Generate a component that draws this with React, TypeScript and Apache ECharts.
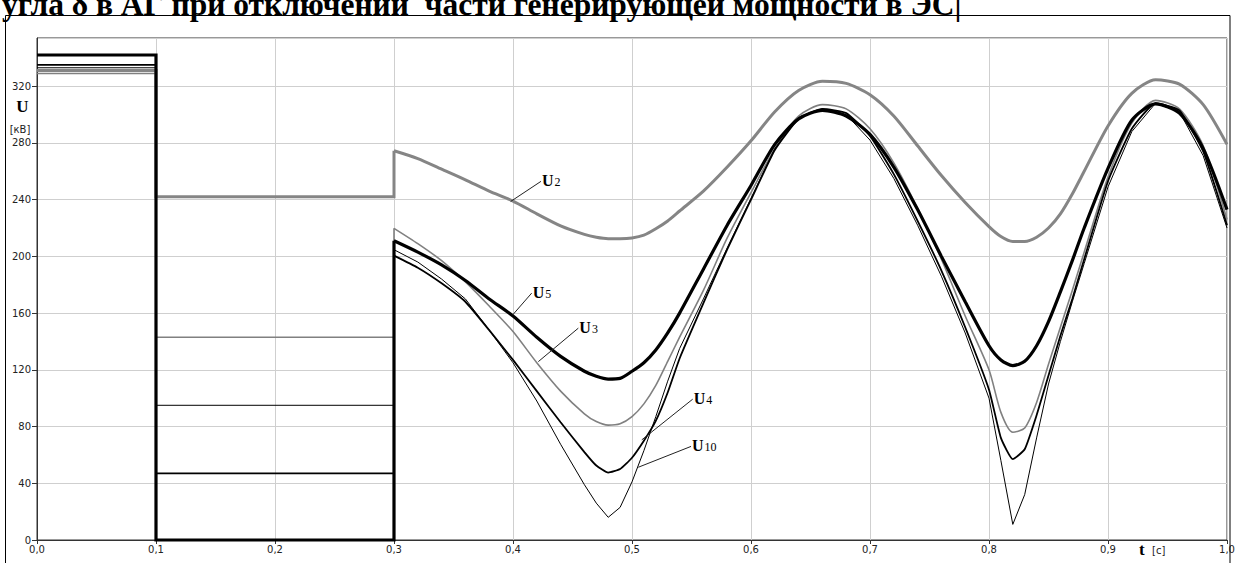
import React, { useEffect, useRef } from "react";
import * as echarts from "echarts";

// time grid (s) for the post-fault part of every curve
const tCurve = [0.30, 0.32, 0.34, 0.36, 0.38, 0.40, 0.42, 0.44, 0.46, 0.47, 0.48, 0.49, 0.50, 0.51, 0.52, 0.53, 0.54, 0.56, 0.58, 0.60, 0.62, 0.64, 0.66, 0.68, 0.70, 0.72, 0.74, 0.76, 0.78, 0.80, 0.81, 0.82, 0.83, 0.84, 0.85, 0.86, 0.87, 0.88, 0.90, 0.92, 0.94, 0.96, 0.98, 1.00];

// step instants
const tFaultStart = 0.1;
const tFaultEnd = 0.3;

// values before the fault / during the fault (kV)
const u2Pre = 331, u2Fault = 242;
const u3Pre = 329, u3Fault = 143;
const u4Pre = 335, u4Fault = 47;
const u5Pre = 342, u5Fault = 0;
const u10Pre = 333, u10Fault = 95;

const u2Curve = [274.5, 269, 261.5, 254, 246, 239, 230, 221.5, 215.5, 213.5, 212.5, 212.5, 213, 215, 219.5, 225, 232, 246, 263, 281.5, 302, 317, 323.5, 322, 314, 299, 278, 257, 238, 221, 214, 210.5, 210.5, 213.5, 220, 230, 244, 260, 292, 315, 324.5, 321.5, 307, 279];
const u3Curve = [219.8, 209, 197, 182, 165, 147, 125, 105, 89, 83.5, 81, 82, 87, 96, 109, 126, 143, 176, 213, 245, 276, 299, 307, 304, 290, 266, 234, 198, 158, 120, 90, 76, 79, 97, 124, 150, 176, 203, 256, 294, 310, 304, 278, 226];
const u4Curve = [200.5, 192, 181, 168, 148, 127, 105, 83, 62, 52.5, 47.5, 50, 58, 70, 84, 104, 128, 167, 205, 240, 275, 297, 304, 301, 285, 258, 225, 190, 150, 106, 72, 57, 64, 88, 116, 144, 170, 198, 253, 290, 308, 303, 274, 222];
const u5Curve = [211, 203, 194, 183, 170, 158, 143, 129.5, 119, 115.5, 113.5, 114, 119, 125, 134, 146, 160, 191, 222, 250, 279, 297, 303, 299, 286, 263, 233, 200, 168, 137, 127, 123, 126, 137, 154, 175, 197, 220, 262, 296, 307.5, 301, 276, 233];
const u10Curve = [204.7, 196, 184, 170, 148, 125, 98, 67.5, 39, 26, 16, 23, 41, 63, 87, 112, 135, 170, 206, 241, 276, 298, 304, 300, 282, 255, 222, 186, 146, 100, 56, 11, 32, 72, 110, 140, 168, 195, 249, 288, 308, 302, 271, 220];

// axis ticks
const xTicks = [0, 0.1, 0.2, 0.3, 0.4, 0.5, 0.6, 0.7, 0.8, 0.9, 1.0];
const yTicks = [0, 40, 80, 120, 160, 200, 240, 280, 320];

// curve label annotations: name, pointer start (on curve), pointer end (near text), in data coords
const labelNames = ["2", "5", "3", "4", "10"];
const labelFrom = [[0.398, 238.7], [0.3998, 158.8], [0.4213, 125.8], [0.5082, 70.6], [0.5053, 51.3]];
const labelTo = [[0.4235, 252.9], [0.4157, 174.1], [0.4549, 149.4], [0.551, 99.3], [0.5496, 66]];

const titleText = "угла δ в АГ при отключении  части генерирующей мощности в ЭС|";

function stepData(pre: number, fault: number, start: number) {
  return [[0, pre], [tFaultStart, pre], [tFaultStart, fault], [tFaultEnd, fault], [tFaultEnd, start]];
}
function curveData(vals: number[]) {
  return tCurve.map((t, i) => [t, vals[i]]);
}

export default function App() {
  const ref = useRef<HTMLDivElement>(null);
  useEffect(() => {
    const el = ref.current!;
    const chart = echarts.init(el, null, { renderer: "svg" });
    const defs = [
      { name: "U2", pre: u2Pre, fault: u2Fault, curve: u2Curve, color: "#858585", width: 3, smooth: 0.25 },
      { name: "U3", pre: u3Pre, fault: u3Fault, curve: u3Curve, color: "#808080", width: 1.6, smooth: 0.25 },
      { name: "U10", pre: u10Pre, fault: u10Fault, curve: u10Curve, color: "#000000", width: 1, smooth: false },
      { name: "U4", pre: u4Pre, fault: u4Fault, curve: u4Curve, color: "#000000", width: 1.8, smooth: 0.15 },
      { name: "U5", pre: u5Pre, fault: u5Fault, curve: u5Curve, color: "#000000", width: 3.2, smooth: 0.25 },
    ];
    const series: any[] = [];
    defs.forEach((d) => {
      series.push({
        type: "line", name: d.name + "s", data: stepData(d.pre, d.fault, d.curve[0]),
        showSymbol: false, symbol: "none", clip: false, smooth: false,
        lineStyle: { color: d.color, width: d.width, join: "miter" }, z: 3,
      });
      series.push({
        type: "line", name: d.name, data: curveData(d.curve),
        showSymbol: false, symbol: "none", clip: false, smooth: d.smooth,
        lineStyle: { color: d.color, width: d.width }, z: 3,
      });
    });
    const labelFont = "DejaVu Sans";
    chart.setOption({
      animation: false,
      backgroundColor: "#ffffff",
      grid: { left: 37, right: 18, top: 38, bottom: 23, show: true, borderColor: "#333", borderWidth: 1 },
      xAxis: {
        type: "value", min: xTicks[0], max: xTicks[xTicks.length - 1], interval: 0.1,
        axisLine: { show: true, lineStyle: { color: "#333", width: 1 } },
        axisTick: { show: true, inside: false, length: 4, lineStyle: { color: "#333" } },
        axisLabel: {
          margin: 4, color: "#222", fontFamily: labelFont, fontSize: 10,
          formatter: (v: number) => v.toFixed(1).replace(".", ","),
        },
        splitLine: { show: true, lineStyle: { color: "#cfcfcf", width: 1 } },
      },
      yAxis: {
        type: "value", min: yTicks[0], max: 354, interval: 40,
        axisLine: { show: true, lineStyle: { color: "#333", width: 1 } },
        axisTick: { show: true, inside: false, length: 5, lineStyle: { color: "#333" } },
        axisLabel: {
          margin: 6, color: "#222", fontFamily: labelFont, fontSize: 10, showMaxLabel: false,
          formatter: (v: number) => (yTicks.indexOf(v) >= 0 ? String(v) : ""),
        },
        splitLine: { show: true, lineStyle: { color: "#cfcfcf", width: 1 } },
      },
      series,
    });

    const graphics: any[] = [];
    // frame
    graphics.push({
      type: "rect", shape: { x: 5.5, y: 15.5, width: 1224.5, height: 600 },
      style: { fill: "none", stroke: "#000", lineWidth: 1 }, silent: true, z: 1,
    });
    // title (its upper part lies above the picture, as in the source)
    graphics.push({
      type: "text", x: 2, y: 20, z: 10,
      style: {
        text: titleText, fill: "#000", fontFamily: "Liberation Serif", fontWeight: "bold", fontSize: 31.5,
        align: "left", verticalAlign: "bottom",
      },
    });
    // axis names
    graphics.push({ type: "text", x: 22.5, y: 106, z: 10, style: { text: "U", fill: "#000", fontFamily: "Liberation Serif", fontWeight: "bold", fontSize: 17, align: "center", verticalAlign: "middle" } });
    graphics.push({ type: "text", x: 20, y: 129.5, z: 10, style: { text: "[кВ]", fill: "#222", fontFamily: labelFont, fontSize: 10, align: "center", verticalAlign: "middle" } });
    graphics.push({ type: "text", x: 1139, y: 549, z: 10, style: { text: "t", fill: "#000", fontFamily: "Liberation Serif", fontWeight: "bold", fontSize: 17, align: "left", verticalAlign: "middle" } });
    graphics.push({ type: "text", x: 1152, y: 550, z: 10, style: { text: "[с]", fill: "#222", fontFamily: labelFont, fontSize: 10, align: "left", verticalAlign: "middle" } });

    // curve labels
    labelNames.forEach((n, i) => {
      const p0 = chart.convertToPixel({ xAxisIndex: 0, yAxisIndex: 0 }, labelFrom[i]) as number[];
      const p1 = chart.convertToPixel({ xAxisIndex: 0, yAxisIndex: 0 }, labelTo[i]) as number[];
      graphics.push({
        type: "line", z: 10, silent: true,
        shape: { x1: p0[0], y1: p0[1], x2: p1[0], y2: p1[1] },
        style: { stroke: "#222", lineWidth: 1 },
      });
      graphics.push({
        type: "text", x: p1[0] + 1, y: p1[1] - 1, z: 10,
        style: {
          text: "{u|U}{s|" + n + "}", align: "left", verticalAlign: "middle",
          rich: {
            u: { fontFamily: "Liberation Serif", fontWeight: "bold", fontSize: 16, fill: "#000", verticalAlign: "bottom" },
            s: { fontFamily: "Liberation Serif", fontSize: 12, fill: "#000", verticalAlign: "bottom", padding: [0, 0, 0, 1] },
          },
        },
      });
    });
    chart.setOption({ graphic: graphics });

    return () => chart.dispose();
  }, []);
  return (
    <div
      ref={ref}
      style={{ position: "fixed", left: 0, top: 0, width: 1245, height: 563, background: "#fff" }}
    />
  );
}
